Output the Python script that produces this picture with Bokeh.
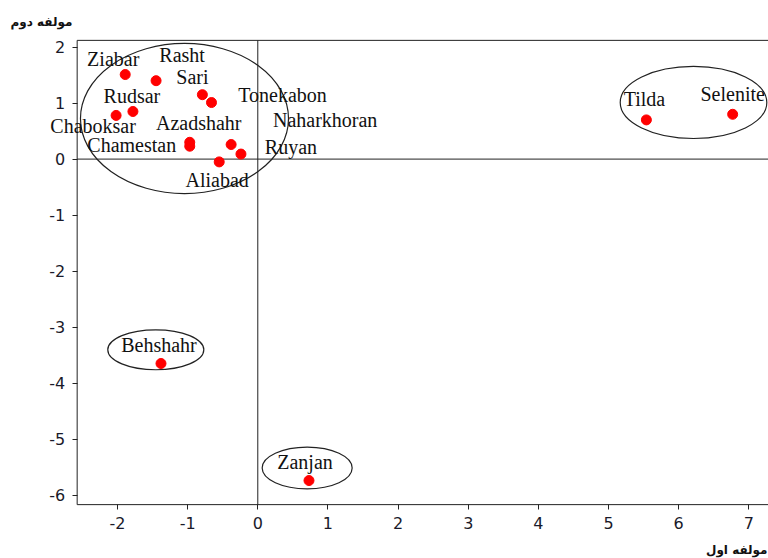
from bokeh.plotting import figure
from bokeh.models import LinearAxis, ColumnDataSource, FixedTicker, Label
from bokeh.embed import file_html
from bokeh.resources import INLINE

# ---- data ----
names = ["Ziabar", "Rasht", "Sari", "Tonekabon", "Rudsar", "Chaboksar",
         "Azadshahr", "Chamestan", "Naharkhoran", "Ruyan", "Aliabad",
         "Tilda", "Selenite", "Behshahr", "Zanjan"]
pc1 = [-1.89, -1.45, -0.79, -0.66, -1.78, -2.02,
       -0.97, -0.97, -0.38, -0.24, -0.55,
       5.54, 6.77, -1.38, 0.73]
pc2 = [1.51, 1.40, 1.15, 1.01, 0.85, 0.78,
       0.30, 0.23, 0.26, 0.09, -0.05,
       0.70, 0.80, -3.65, -5.74]

# group ellipses (centre, width, height in data units)
ell_x = [-1.045, 6.212, -1.454, 0.704]
ell_y = [0.725, 1.011, -3.405, -5.516]
ell_w = [2.966, 2.09, 1.369, 1.283]
ell_h = [2.68, 1.286, 0.714, 0.744]

x_ticks = [-2, -1, 0, 1, 2, 3, 4, 5, 6, 7]
y_ticks = [-6, -5, -4, -3, -2, -1, 0, 1, 2]

x_title = "مولفه اول"
y_title = "مولفه دوم"

# plotting-area bounds (data units)
X0, X1 = -2.575, 7.4
Y0, Y1 = -6.17, 2.12

# label placement (pixels, styling only; positive = right / down)
lab_dx = [-12, 26, -10, 71, -1, -23, 9, -58, 94, 50, -2, -2, 0, -2, -4]
lab_dy = [-16, -26, -18, -8, -15, 11, -19, -1, -25, -7, 18, -21, -20, -19, -19]

src = ColumnDataSource(dict(x=pc1, y=pc2, name=names))

# the canvas itself is the data frame, so text may sit outside the axes box
p = figure(width=768, height=558, x_range=(-3.668, 7.281), y_range=(-7.132, 2.832),
           output_backend="svg", toolbar_location=None,
           min_border_left=0, min_border_right=0, min_border_top=0, min_border_bottom=0,
           x_axis_location=None, y_axis_location=None)
p.title.visible = False
p.background_fill_color = "white"
p.border_fill_color = "white"
p.outline_line_color = None
p.grid.visible = False

xax = LinearAxis(fixed_location=Y0, ticker=FixedTicker(ticks=x_ticks))
yax = LinearAxis(fixed_location=X0, ticker=FixedTicker(ticks=y_ticks))
for ax in (xax, yax):
    ax.axis_line_color = None
    ax.major_tick_line_color = "#222222"
    ax.major_tick_out = 5
    ax.major_tick_in = 0
    ax.minor_tick_line_color = None
    ax.major_label_text_font = "DejaVu Sans"
    ax.major_label_text_font_size = "16px"
    ax.major_label_text_color = "#1a1a2a"
    ax.major_label_standoff = 7
xax.major_label_overrides = {t: str(t) for t in x_ticks}
yax.major_label_overrides = {t: str(t) for t in y_ticks}
p.add_layout(xax, "below")
p.add_layout(yax, "left")

# axes box (left, top, bottom) and the zero lines
p.segment(x0=[X0, X0, X0, 0, X0], y0=[Y0, Y1, Y0, Y0, 0],
          x1=[X0, X1, X1, 0, X1], y1=[Y1, Y1, Y0, Y1, 0],
          line_color="#222222", line_width=1)

p.ellipse(x=ell_x, y=ell_y, width=ell_w, height=ell_h, fill_color=None,
          line_color="#222222", line_width=1.2)

p.scatter(x="x", y="y", source=src, size=10, color="#ff0000", line_color="#ff0000")

for nm, xv, yv, ox, oy in zip(names, pc1, pc2, lab_dx, lab_dy):
    p.add_layout(Label(x=xv, y=yv, text=nm, x_offset=ox, y_offset=-oy,
                       text_font="Liberation Serif", text_font_size="20px",
                       text_align="center", text_baseline="middle",
                       text_color="#111111"))

# axis titles (screen units from the canvas bottom-left)
p.add_layout(Label(x=767, y=8.5, x_units="screen", y_units="screen", text=x_title,
                   text_font="DejaVu Sans", text_font_size="12px", text_font_style="bold",
                   text_align="right", text_baseline="middle", text_color="#111111"))
p.add_layout(Label(x=10, y=536.5, x_units="screen", y_units="screen", text=y_title,
                   text_font="DejaVu Sans", text_font_size="12px", text_font_style="bold",
                   text_align="left", text_baseline="middle", text_color="#111111"))

open("out.html", "w").write(file_html(p, INLINE))
